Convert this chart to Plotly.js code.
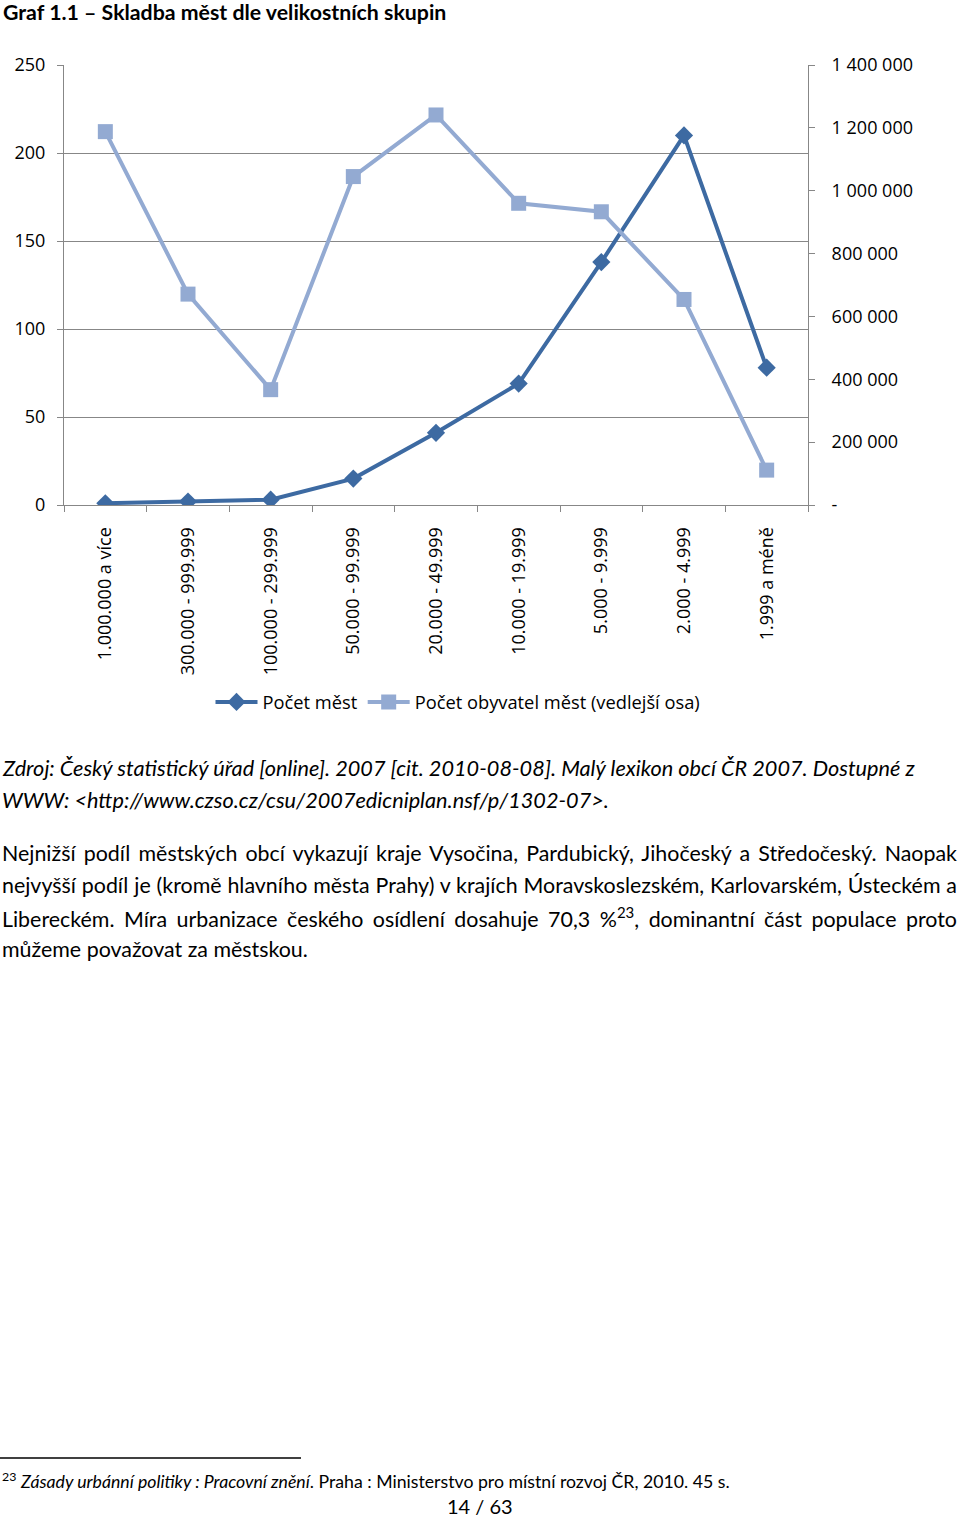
<!DOCTYPE html>
<html>
<head>
<meta charset="utf-8">
<script src="https://cdn.plot.ly/plotly-3.0.1.min.js"></script>
<style>
  body { margin: 0; background: #fff; }
  #chart { width: 960px; height: 1520px; }
</style>
</head>
<body>
<div id="chart"></div>
<script>
// Data
const categories = ['1.000.000 a více', '300.000 - 999.999', '100.000 - 299.999', '50.000 - 99.999',
  '20.000 - 49.999', '10.000 - 19.999', '5.000 - 9.999', '2.000 - 4.999', '1.999 a méně'];
const pocetMest = [1, 2, 3, 15, 41, 69, 138, 210, 78];
const pocetObyvatel = [1188000, 671000, 367000, 1045000, 1241000, 960000, 933000, 654000, 111000];

// Secondary axis ticks (Excel accounting format, zero shown as "-")
const rightTicks = [0, 200000, 400000, 600000, 800000, 1000000, 1200000, 1400000];
const rightTickText = ['-', '200 000', '400 000', '600 000', '800 000', '1 000 000', '1 200 000', '1 400 000'];

// Page text
const chartTitle = 'Graf 1.1 – Skladba měst dle velikostních skupin';
const sourceLines = [
  'Zdroj: Český statistický úřad [online]. 2007 [cit. 2010-08-08]. Malý lexikon obcí ČR 2007. Dostupné z',
  'WWW: &lt;http://www.czso.cz/csu/2007edicniplan.nsf/p/1302-07&gt;.'
];
const paraLines = [
  'Nejnižší podíl městských obcí vykazují kraje Vysočina, Pardubický, Jihočeský a Středočeský. Naopak',
  'nejvyšší podíl je (kromě hlavního města Prahy) v krajích Moravskoslezském, Karlovarském, Ústeckém a',
  'Libereckém. Míra urbanizace českého osídlení dosahuje 70,3 %<sup>23</sup>, dominantní část populace proto',
  'můžeme považovat za městskou.'
];
const footnote = '<sup>23</sup> <i>Zásady urbánní politiky : Pracovní znění</i>. Praha : Ministerstvo pro místní rozvoj ČR, 2010. 45 s.';
const pageNo = '14 / 63';

// plot box in page pixels, helpers to place page text
const PL = 64, PR = 808, PT = 65, PB = 505;
const fx = p => (p - PL) / (PR - PL);
const fy = p => (PB - p) / (PB - PT);

const darkBlue = '#3D6AA2';
const lightBlue = '#93AAD2';
const gray = '#878787';
const chartFont = { family: 'Open Sans, sans-serif', size: 18, color: '#000' };
const pageFont = { family: 'Lato, sans-serif', size: 21.4, color: '#000' };

const traces = [
  {
    x: categories,
    y: pocetMest,
    name: 'Počet měst',
    type: 'scatter',
    mode: 'lines+markers',
    line: { color: darkBlue, width: 4 },
    marker: { symbol: 'diamond', size: 14, color: darkBlue }
  },
  {
    x: categories,
    y: pocetObyvatel,
    name: 'Počet obyvatel měst (vedlejší osa)',
    type: 'scatter',
    mode: 'lines+markers',
    yaxis: 'y2',
    line: { color: lightBlue, width: 4 },
    marker: { symbol: 'square', size: 15, color: lightBlue }
  }
];

const annotations = [];
const justified = [];
function addText(text, px, py, font, anchor) {
  annotations.push({
    text: text, xref: 'paper', yref: 'paper', x: fx(px), y: fy(py),
    xanchor: anchor || 'left', yanchor: 'middle', align: anchor || 'left',
    showarrow: false, font: font
  });
  return annotations.length - 1;
}

addText('<b>' + chartTitle + '</b>', 1, 12, { family: 'Lato, sans-serif', size: 21.3, color: '#000' });
sourceLines.forEach((t, i) => addText('<i>' + t + '</i>', 0, 768 + i * 32, { ...pageFont, size: 21.7 }));
paraLines.forEach((t, i) => {
  const idx = addText(t, 0, 853 + i * 32, pageFont);
  if (i < paraLines.length - 1) justified.push(idx); // last line of a paragraph stays ragged
});
addText(footnote, 0, 1480, { family: 'Lato, sans-serif', size: 17.7, color: '#000' });
addText(pageNo, 480, 1506, { family: 'Lato, sans-serif', size: 20, color: '#000' }, 'center');

const layout = {
  width: 960,
  height: 1520,
  margin: { l: PL, r: 960 - PR, t: PT, b: 1520 - PB, pad: 0 },
  paper_bgcolor: '#fff',
  plot_bgcolor: '#fff',
  font: chartFont,
  showlegend: true,
  legend: {
    orientation: 'h', x: fx(458), y: fy(702), xanchor: 'center', yanchor: 'middle',
    font: { ...chartFont, size: 18.3 }, bgcolor: 'rgba(0,0,0,0)', itemwidth: 42
  },
  xaxis: {
    type: 'category',
    range: [-0.5, 8.5],
    showgrid: false,
    showline: true,
    linecolor: gray,
    linewidth: 1,
    ticks: 'outside',
    tickson: 'boundaries',
    ticklen: 6,
    tickcolor: gray,
    tickangle: -90,
    tickfont: chartFont,
    ticklabelstandoff: 14
  },
  yaxis: {
    range: [0, 250],
    dtick: 50,
    showgrid: true,
    gridcolor: gray,
    gridwidth: 1,
    zeroline: false,
    showline: true,
    linecolor: gray,
    ticks: 'outside',
    ticklen: 6,
    tickcolor: gray,
    tickfont: chartFont,
    ticklabelstandoff: 8
  },
  yaxis2: {
    overlaying: 'y',
    side: 'right',
    range: [0, 1400000],
    tickvals: rightTicks,
    ticktext: rightTickText,
    showgrid: false,
    zeroline: false,
    showline: true,
    linecolor: gray,
    ticks: 'outside',
    ticklen: 6,
    tickcolor: gray,
    tickfont: chartFont,
    ticklabelstandoff: 13
  },
  annotations: annotations,
  shapes: [
    { type: 'line', xref: 'paper', yref: 'paper', x0: fx(0), x1: fx(301), y0: fy(1458), y1: fy(1458),
      line: { color: '#000', width: 1.5 } }
  ]
};

Plotly.newPlot('chart', traces, layout, { staticPlot: true, displayModeBar: false }).then(gd => {
  // justify the paragraph lines to the page width by widening word gaps
  const target = 955;
  justified.forEach(i => {
    const el = gd.querySelector('.annotation[data-index="' + i + '"] text.annotation-text');
    if (!el) return;
    const gaps = (el.textContent.match(/ /g) || []).length;
    const extra = target - el.getComputedTextLength();
    if (gaps > 0 && extra > 0) el.style.wordSpacing = (extra / gaps) + 'px';
  });
});
</script>
</body>
</html>
